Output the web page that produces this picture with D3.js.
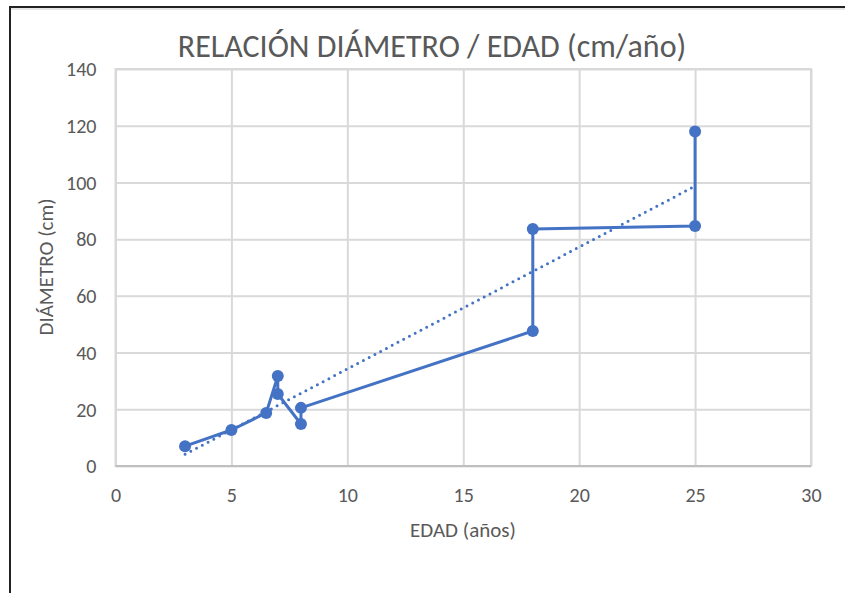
<!DOCTYPE html>
<html>
<head>
<meta charset="utf-8" />
<title>Relación diámetro / edad</title>
<script src="https://d3js.org/d3.v7.min.js"></script>
<style type="text/css">
body { margin: 0; background: #fff; }
svg text { font-family: Carlito, Calibri, "Open Sans", sans-serif; fill: #595959; }
</style>
</head>
<body>
<div id="chart"></div>
<script type="text/javascript">
// datos
var edad     = [3, 5, 6.5, 7, 7, 8, 8, 18, 18, 25, 25];
var diametro = [7, 12.7, 18.7, 31.7, 25.4, 14.8, 20.5, 47.6, 83.6, 84.6, 118];
var xTicks = [0, 5, 10, 15, 20, 25, 30];
var yTicks = [0, 20, 40, 60, 80, 100, 120, 140];

var width = 845,
    height = 593,
    plotLeft = 115.5,
    plotRight = 811,
    plotTop = 69,
    plotBottom = 466;

var blue = "#4472c4",
    grid = "#d9d9d9";

var svg = d3.select("#chart")
    .append("svg")
    .attr("width", width)
    .attr("height", height);

// marco exterior (captura)
svg.append("line").attr("x1", 10).attr("x2", width).attr("y1", 7).attr("y2", 7)
    .attr("stroke", "#222").attr("stroke-width", 2);
svg.append("line").attr("x1", 10).attr("x2", 10).attr("y1", 6).attr("y2", height)
    .attr("stroke", "#222").attr("stroke-width", 2);
svg.append("line").attr("x1", 11).attr("x2", width).attr("y1", 9).attr("y2", 9)
    .attr("stroke", "#e6e6e6").attr("stroke-width", 2);

var xScale = d3.scaleLinear().domain([0, 30]).range([plotLeft, plotRight]);
var yScale = d3.scaleLinear().domain([0, 140]).range([plotBottom, plotTop]);

var xAxis = d3.axisBottom(xScale).tickValues(xTicks).tickSize(-(plotBottom - plotTop)).tickPadding(0);
var yAxis = d3.axisLeft(yScale).tickValues(yTicks).tickSize(-(plotRight - plotLeft)).tickPadding(19);

var gX = svg.append("g")
    .attr("transform", "translate(0," + plotBottom + ")")
    .call(xAxis);
var gY = svg.append("g")
    .attr("transform", "translate(" + plotLeft + ",0)")
    .call(yAxis);

[gX, gY].forEach(function(g) {
    g.select(".domain").remove();
    g.selectAll("line").attr("stroke", grid).attr("stroke-width", 2);
    g.selectAll("text").attr("font-size", 20).style("fill", "#595959");
});
gX.selectAll("text").attr("dy", null).attr("y", 36);
gY.selectAll("text").attr("dy", "0.34em");

// borde del area de trazado
svg.append("rect")
    .attr("x", plotLeft).attr("y", plotTop)
    .attr("width", plotRight - plotLeft).attr("height", plotBottom - plotTop)
    .attr("fill", "none").attr("stroke", grid).attr("stroke-width", 2);
svg.append("line")
    .attr("x1", plotLeft).attr("x2", plotRight).attr("y1", plotBottom).attr("y2", plotBottom)
    .attr("stroke", "#bfbfbf").attr("stroke-width", 2);

// linea de tendencia lineal (minimos cuadrados)
var pts = edad.map(function(d, i) { return [d, diametro[i]]; });
var mx = d3.mean(edad), my = d3.mean(diametro);
var sxy = d3.sum(pts, function(p) { return (p[0] - mx) * (p[1] - my); });
var sxx = d3.sum(edad, function(x) { return (x - mx) * (x - mx); });
var slope = sxy / sxx, icpt = my - slope * mx;
var xr = d3.extent(edad);

svg.append("line")
    .attr("x1", xScale(xr[0])).attr("y1", yScale(icpt + slope * xr[0]))
    .attr("x2", xScale(xr[1])).attr("y2", yScale(icpt + slope * xr[1]))
    .attr("stroke", blue).attr("stroke-width", 3)
    .attr("stroke-dasharray", "0 6.5").attr("stroke-linecap", "round");

var line = d3.line()
    .x(function(p) { return xScale(p[0]); })
    .y(function(p) { return yScale(p[1]); });

svg.append("path")
    .datum(pts)
    .attr("d", line)
    .attr("fill", "none")
    .attr("stroke", blue)
    .attr("stroke-width", 3)
    .attr("stroke-linejoin", "round");

svg.selectAll(".pt")
    .data(pts)
    .enter()
    .append("circle")
    .attr("class", "pt")
    .attr("cx", function(p) { return xScale(p[0]); })
    .attr("cy", function(p) { return yScale(p[1]); })
    .attr("r", 6)
    .attr("fill", blue);

// textos
svg.append("text")
    .attr("x", 432).attr("y", 57)
    .attr("text-anchor", "middle")
    .attr("font-size", 32)
    .text("RELACIÓN DIÁMETRO / EDAD (cm/año)");

svg.append("text")
    .attr("x", 463).attr("y", 537)
    .attr("text-anchor", "middle")
    .attr("font-size", 21)
    .text("EDAD (años)");

svg.append("text")
    .attr("transform", "translate(53,267) rotate(-90)")
    .attr("text-anchor", "middle")
    .attr("font-size", 21)
    .text("DIÁMETRO (cm)");
</script>
</body>
</html>
